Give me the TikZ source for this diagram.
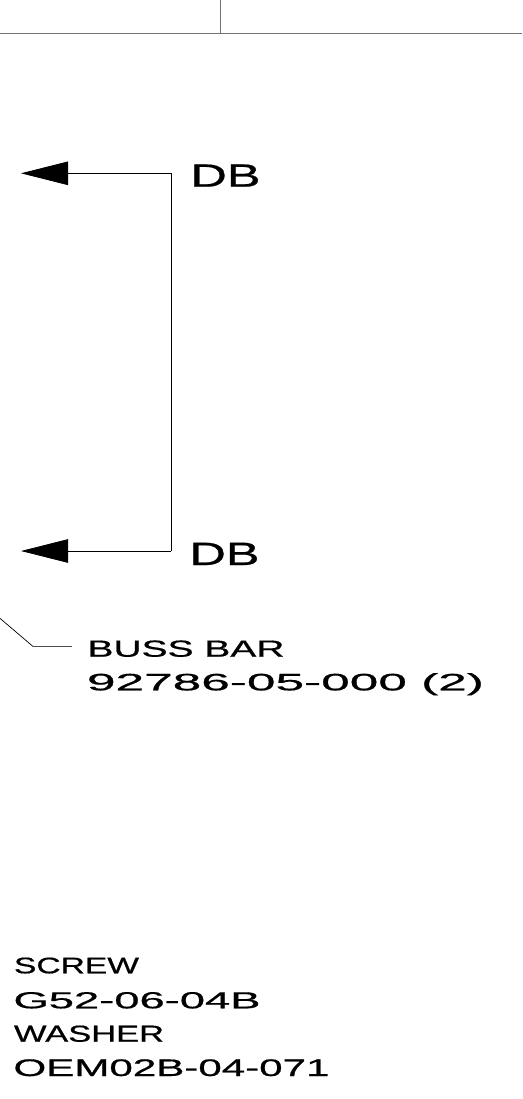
\documentclass[tikz,border=0pt]{standalone}
\usepackage{fontspec}
\setmainfont{Liberation Sans}[FakeBold=0.6]
\usetikzlibrary{arrows.meta}
\newcommand{\stxt}[3]{{\fontsize{#1}{#1}\selectfont\resizebox{#2}{\height}{#3}}}
\begin{document}
\begin{tikzpicture}[x=1pt,y=-1pt,
  lbl/.style={anchor=base west,inner sep=0pt,outer sep=0pt},
  frame/.style={draw=black!55,line width=1.5pt},
  thin/.style={draw=black,line width=0.8pt},
  bigarrow/.style={thin,-{Triangle[length=47pt,width=23.5pt]}}]
\useasboundingbox (0,0) rectangle (522,1099);
% title block lines
\coordinate (hl) at (0,33.7);
\coordinate (hr) at (522,33.7);
\coordinate (vt) at (220.7,0);
\coordinate (vb) at (220.7,33.7);
\draw[frame] (hl) -- (hr);
\draw[frame] (vt) -- (vb);
% DB arrows
\coordinate (c1) at (171,173.3);
\coordinate (c2) at (171,551);
\coordinate (t1) at (21,173.3);
\coordinate (t2) at (21,551);
\draw[thin] (c1) -- (c2);
\draw[bigarrow] (c1) -- (t1);
\draw[bigarrow] (c2) -- (t2);
\node[lbl] (db1) at (190.5,186.7) {\stxt{32.3}{70pt}{DB}};
\node[lbl] (db2) at (189.5,565) {\stxt{32.3}{70pt}{DB}};
% buss bar leader
\coordinate (l0) at (-1,617.5);
\coordinate (l1) at (33.3,646.7);
\coordinate (l2) at (72,646.7);
\draw[draw=black,line width=0.7pt] (l0) -- (l1);
\draw[draw=black!70,line width=1.1pt] (l1) -- (l2);
\node[lbl] (bb) at (87.5,656.7) {\stxt{23.3}{197pt}{BUSS BAR}};
\node[lbl] (pn) at (87,690.3) {\stxt{23.7}{397pt}{92786-05-000 (2)}};
% screw / washer
\node[lbl] (sc) at (14,973.3) {\stxt{22.6}{125pt}{SCREW}};
\node[lbl] (g5) at (13.5,1008.3) {\stxt{23.2}{247pt}{G52-06-04B}};
\node[lbl] (wa) at (14,1041.7) {\stxt{23.2}{150pt}{WASHER}};
\node[lbl] (oe) at (13.5,1076) {\stxt{24}{316pt}{OEM02B-04-071}};
\end{tikzpicture}
\end{document}
